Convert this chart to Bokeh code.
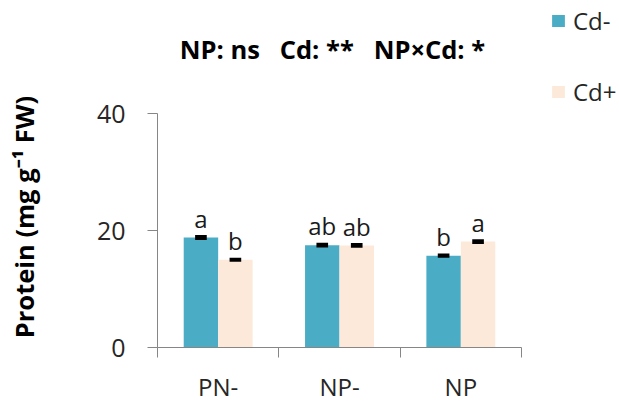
import numpy as np
from bokeh.plotting import figure
from bokeh.models import ColumnDataSource, FixedTicker, Label, Legend, LegendItem, Range1d
from bokeh.core.properties import value
from bokeh.embed import file_html
from bokeh.resources import INLINE

# ---- data ----
categories = ["PN-", "NP-", "NP"]
series = ["Cd-", "Cd+"]
cd_minus = [18.8, 17.5, 15.7]
cd_plus = [15.0, 17.45, 18.1]
se_minus = [0.42, 0.4, 0.35]
se_plus = [0.35, 0.4, 0.4]
letters_minus = ["a", "ab", "b"]
letters_plus = ["b", "ab", "a"]
y_ticks = [0, 20, 40]
title_text = "NP: ns\u00a0\u00a0\u00a0Cd: **\u00a0\u00a0\u00a0NP\u00d7Cd: *"
y_label = "Protein (mg g\u207b\u00b9 FW)"

FONT = "Open Sans"
BLUE = "#4BACC6"
PEACH = "#FDE9D9"
AXIS = "#868686"
TXT = "#262626"

n = len(categories)
bw = 0.284
centers = np.arange(n) + 0.5
xs_m = centers - bw / 2
xs_p = centers + bw / 2

src_m = ColumnDataSource(dict(x=xs_m, top=cd_minus, et=np.add(cd_minus, se_minus),
                              eb=np.subtract(cd_minus, se_minus), lab=letters_minus))
src_p = ColumnDataSource(dict(x=xs_p, top=cd_plus, et=np.add(cd_plus, se_plus),
                              eb=np.subtract(cd_plus, se_plus), lab=letters_plus))

# frame spans to top and right edges; axes are bounded to the data extent
y_max = y_ticks[-1]
p = figure(width=619, height=405,
           x_range=Range1d(0, n * 462 / 364), y_range=Range1d(0, y_max * 347 / 234),
           output_backend="svg", toolbar_location=None,
           min_border_left=157, min_border_right=0, min_border_top=0, min_border_bottom=58)
p.outline_line_color = None
p.grid.visible = False
p.background_fill_color = "white"

r_m = p.vbar(x="x", top="top", bottom=0, width=bw, source=src_m, fill_color=BLUE, line_color=None)
r_p = p.vbar(x="x", top="top", bottom=0, width=bw, source=src_p, fill_color=PEACH, line_color=None)

for s in (src_m, src_p):
    p.vbar(x="x", top="et", bottom="eb", width=0.096, source=s, fill_color="black", line_color=None)
    p.text(x="x", y="et", text="lab", source=s, text_align="center", text_baseline="alphabetic",
           y_offset=-17, text_font=value(FONT), text_font_size="24px", text_color="#1a1a1a")

# y axis
ya = p.yaxis[0]
ya.ticker = FixedTicker(ticks=y_ticks)
ya.bounds = (0, y_max)
ya.major_tick_out = 10
ya.major_tick_in = 0
ya.minor_tick_out = 0
ya.axis_line_color = AXIS
ya.major_tick_line_color = AXIS
ya.major_label_standoff = 22
ya.major_label_text_font = FONT
ya.major_label_text_font_size = "25px"
ya.major_label_text_color = TXT
# trailing no-break spaces move the centred label down beside the bounded axis
ya.axis_label = y_label + "\u00a0" * 13
ya.axis_label_text_font = FONT
ya.axis_label_text_font_size = "25.5px"
ya.axis_label_text_font_style = "bold"
ya.axis_label_text_color = "black"
ya.axis_label_standoff = 53

# x axis
xa = p.xaxis[0]
xa.ticker = FixedTicker(ticks=list(centers), minor_ticks=list(range(n + 1)))
xa.bounds = (0, n)
xa.major_label_overrides = {float(c): lab for c, lab in zip(centers, categories)}
xa.major_tick_out = 0
xa.major_tick_in = 0
xa.minor_tick_out = 10
xa.minor_tick_in = 0
xa.axis_line_color = AXIS
xa.minor_tick_line_color = AXIS
xa.major_label_standoff = 12
xa.major_label_text_font = FONT
xa.major_label_text_font_size = "24px"
xa.major_label_text_color = TXT

# title
p.add_layout(Label(x=1.442, y=51.06, text=title_text, text_align="center", text_baseline="alphabetic",
                   text_font=FONT, text_font_size="25.5px", text_font_style="bold", text_color="black"))

legend = Legend(items=[LegendItem(label=series[0], renderers=[r_m]),
                       LegendItem(label=series[1], renderers=[r_p])],
                location=(393, 239), orientation="vertical", glyph_width=16, glyph_height=15,
                label_height=24, spacing=38, padding=0, margin=0, label_standoff=7,
                label_text_font=FONT, label_text_font_size="24px", label_text_color=TXT,
                border_line_color=None, background_fill_alpha=0)
p.add_layout(legend)

open("out.html", "w").write(file_html(p, INLINE))
